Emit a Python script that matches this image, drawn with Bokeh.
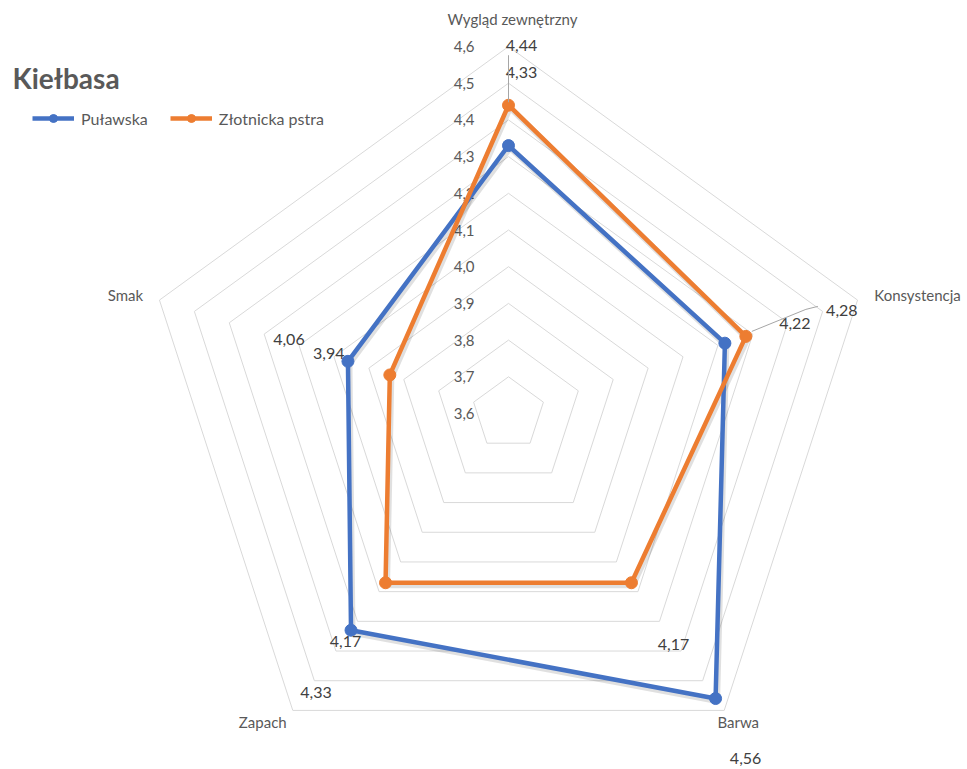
import numpy as np
from bokeh.plotting import figure
from bokeh.models import Range1d, Legend, LegendItem
from bokeh.core.properties import value
from bokeh.embed import file_html
from bokeh.resources import INLINE

# ---- data ----
title = "Kiełbasa"
categories = ["Wygląd zewnętrzny", "Konsystencja", "Barwa", "Zapach", "Smak"]
series_names = ["Puławska", "Złotnicka pstra"]
pulawska = [4.33, 4.22, 4.56, 4.33, 4.06]
zlotnicka = [4.44, 4.28, 4.17, 4.17, 3.94]
tick_values = [3.6, 3.7, 3.8, 3.9, 4.0, 4.1, 4.2, 4.3, 4.4, 4.5, 4.6]
tick_labels = ["3,6", "3,7", "3,8", "3,9", "4,0", "4,1", "4,2", "4,3", "4,4", "4,5", "4,6"]
r_min, r_max = 3.6, 4.6

# ---- style / layout ----
W, H = 967, 769
CX, CY = 508, 413          # centre of radar in screen px
PX = 367.0                 # pixels per unit of value
BLUE, ORANGE = "#4472C4", "#ED7D31"
GRID = "#d9d9d9"
TXT = "#595959"
FONT = "Lato"

n = len(categories)
angles = np.pi / 2 - 2 * np.pi * np.arange(n) / n

def xy(vals):
    r = np.array(vals) - r_min
    return r * np.cos(angles), r * np.sin(angles)

p = figure(width=W, height=H, output_backend="svg", toolbar_location=None,
           x_range=Range1d(-CX / PX, (W - CX) / PX),
           y_range=Range1d(-(H - CY) / PX, CY / PX),
           min_border=0, outline_line_color=None)
p.axis.visible = False
p.grid.visible = False
p.background_fill_color = "white"
p.border_fill_color = "white"

# grid pentagons
for tv in tick_values[1:]:
    gx, gy = xy([tv] * n)
    p.line(list(gx) + [gx[0]], list(gy) + [gy[0]], line_color=GRID, line_width=1)

# tick labels (along the top axis, left of it)
p.text(x=[-34 / PX] * len(tick_values), y=[tv - r_min for tv in tick_values], text=tick_labels,
       text_align="right", text_baseline="middle", text_color=TXT,
       text_font=value(FONT), text_font_size="15px")

# category labels: screen px offsets (right, down) from the outer vertex
cat_off = [(4, -28), (60, -5), (14, 12), (-30, 12), (-34, -5)]
ox, oy = xy([r_max] * n)
cat_x = [ox[i] + cat_off[i][0] / PX for i in range(n)]
cat_y = [oy[i] - cat_off[i][1] / PX for i in range(n)]
p.text(x=cat_x, y=cat_y, text=categories, text_align="center", text_baseline="middle",
       text_color=TXT, text_font=value(FONT), text_font_size="15px")

# series (soft shadow first)
renders = []
for vals, col in [(pulawska, BLUE), (zlotnicka, ORANGE)]:
    sx, sy = xy(vals)
    lx, ly = list(sx) + [sx[0]], list(sy) + [sy[0]]
    p.line([v + 1.5 / PX for v in lx], [v - 2.5 / PX for v in ly], line_color="black",
           line_alpha=0.12, line_width=6, line_join="round")
for vals, col in [(pulawska, BLUE), (zlotnicka, ORANGE)]:
    sx, sy = xy(vals)
    lx, ly = list(sx) + [sx[0]], list(sy) + [sy[0]]
    l = p.line(lx, ly, line_color=col, line_width=4.5, line_join="round")
    s = p.scatter(list(sx), list(sy), size=12, fill_color=col, line_color=col, marker="circle")
    renders.append((l, s))

# data labels (screen px offsets from points)
lab_off_p = [(13, -73), (70, -20), (30, 60), (-35, 62), (-59, -22)]
lab_off_z = [(13, -60), (96, -26), (42, 62), (-40, 59), (-61, -21)]
for vals, offs in [(pulawska, lab_off_p), (zlotnicka, lab_off_z)]:
    sx, sy = xy(vals)
    p.text(x=[sx[i] + offs[i][0] / PX for i in range(n)],
           y=[sy[i] - offs[i][1] / PX for i in range(n)],
           text=[f"{v:.2f}".replace(".", ",") for v in vals],
           text_align="center", text_baseline="middle", text_color="#404040",
           text_font=value(FONT), text_font_size="16px")

# leader lines for the two crowded labels
zx, zy = xy(zlotnicka)
lead1 = [(0, -3), (0, -50)]
lead2 = [(6, -5), (60, -27), (72, -30)]
p.line([zx[0] + a / PX for a, b in lead1], [zy[0] - b / PX for a, b in lead1], line_color="#a6a6a6", line_width=1)
p.line([zx[1] + a / PX for a, b in lead2], [zy[1] - b / PX for a, b in lead2], line_color="#a6a6a6", line_width=1)

# title
p.text(x=[-CX / PX + 12 / PX], y=[(CY - 77) / PX], text=[title], text_align="left",
       text_baseline="middle", text_color=TXT, text_font=value(FONT),
       text_font_size="28px", text_font_style="bold")

legend = Legend(items=[LegendItem(label=series_names[i], renderers=list(renders[i])) for i in range(2)],
                orientation="horizontal", location=(32, H - 118 - 10), glyph_width=42, glyph_height=20,
                label_standoff=7, spacing=22, padding=0, margin=0,
                border_line_color=None, background_fill_alpha=0,
                label_text_font=FONT, label_text_font_size="16px", label_text_color=TXT)
p.add_layout(legend, "center")

open("out.html", "w").write(file_html(p, INLINE))
